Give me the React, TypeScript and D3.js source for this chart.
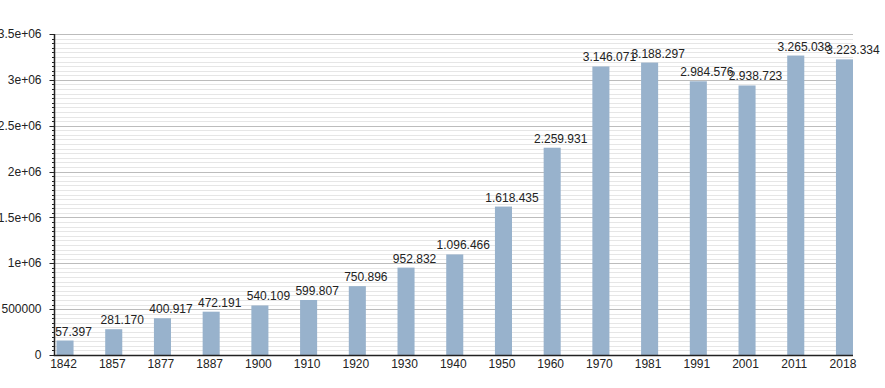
import React from "react";
import * as d3 from "d3";

// census years, bar heights (as drawn) and the printed labels
const years = ["1842", "1857", "1877", "1887", "1900", "1910", "1920", "1930", "1940", "1950", "1960", "1970", "1981", "1991", "2001", "2011", "2018"];
const barValues = [158000, 281170, 400917, 472191, 540109, 599807, 750896, 952832, 1096466, 1618435, 2259931, 3146071, 3188297, 2984576, 2938723, 3265038, 3223334];
const valueLabels = ["57.397", "281.170", "400.917", "472.191", "540.109", "599.807", "750.896", "952.832", "1.096.466", "1.618.435", "2.259.931", "3.146.071", "3.188.297", "2.984.576", "2.938.723", "3.265.038", "3.223.334"];
const yTickLabels = ["0", "500000", "1e+06", "1.5e+06", "2e+06", "2.5e+06", "3e+06", "3.5e+06"];

const W = 885;
const H = 388;
const AXIS_X = 54.5;
const PLOT_RIGHT = 853;
const BAR_FILL = "#98b2cc";
const FONT = "'Liberation Sans', Arial, Helvetica, sans-serif";

export default function App() {
  const y = d3.scaleLinear().domain([0, 3500000]).range([355, 34]);
  const x = d3
    .scaleBand<string>()
    .domain(years)
    .range([56.5, PLOT_RIGHT])
    .paddingInner(0.65)
    .paddingOuter(0);

  const majorTicks = d3.range(0, 3500001, 500000);
  const minorTicks = d3.range(0, 3500001, 50000).filter((v) => v % 500000 !== 0);

  return (
    <svg
      width={W}
      height={H}
      style={{ position: "absolute", left: 0, top: 0, background: "#fff" }}
      fontFamily={FONT}
    >
      {/* minor grid */}
      {minorTicks.map((v) => (
        <line key={"mg" + v} x1={AXIS_X} x2={PLOT_RIGHT} y1={Math.round(y(v)) + 0.5} y2={Math.round(y(v)) + 0.5} stroke="#e6e6e6" />
      ))}
      {/* major grid */}
      {majorTicks.map((v) => (
        <line key={"Mg" + v} x1={AXIS_X} x2={PLOT_RIGHT} y1={Math.round(y(v)) + 0.5} y2={Math.round(y(v)) + 0.5} stroke="#bcbcbc" />
      ))}

      {/* bars */}
      {years.map((yr, i) => (
        <rect
          key={yr}
          x={x(yr)}
          y={y(barValues[i])}
          width={x.bandwidth()}
          height={y(0) - y(barValues[i])}
          fill={BAR_FILL}
        />
      ))}

      {/* value labels, centred on the bar's right edge */}
      {years.map((yr, i) => (
        <text
          key={"l" + yr}
          x={(x(yr) as number) + x.bandwidth()}
          y={y(barValues[i]) - 5}
          textAnchor="middle"
          fontSize={12}
          fill="#222"
        >
          {valueLabels[i]}
        </text>
      ))}

      {/* y axis ticks */}
      {minorTicks.map((v) => (
        <line key={"mt" + v} x1={AXIS_X - 2.5} x2={AXIS_X} y1={Math.round(y(v)) + 0.5} y2={Math.round(y(v)) + 0.5} stroke="#222" />
      ))}
      {majorTicks.map((v, i) => (
        <g key={"Mt" + v}>
          <line x1={AXIS_X - 5} x2={AXIS_X} y1={Math.round(y(v)) + 0.5} y2={Math.round(y(v)) + 0.5} stroke="#222" />
          <text x={41.5} y={y(v)} dy="0.35em" textAnchor="end" fontSize={12} fill="#222">
            {yTickLabels[i]}
          </text>
        </g>
      ))}

      {/* axis lines */}
      <line x1={AXIS_X} x2={AXIS_X} y1={34} y2={356} stroke="#222" strokeWidth={1.5} />
      <line x1={AXIS_X - 0.75} x2={PLOT_RIGHT} y1={355.5} y2={355.5} stroke="#222" strokeWidth={1.5} />

      {/* x labels */}
      {years.map((yr) => (
        <text
          key={"x" + yr}
          x={(x(yr) as number) + x.bandwidth() / 2 - 1.5}
          y={368}
          textAnchor="middle"
          fontSize={12}
          fill="#222"
        >
          {yr}
        </text>
      ))}
    </svg>
  );
}
